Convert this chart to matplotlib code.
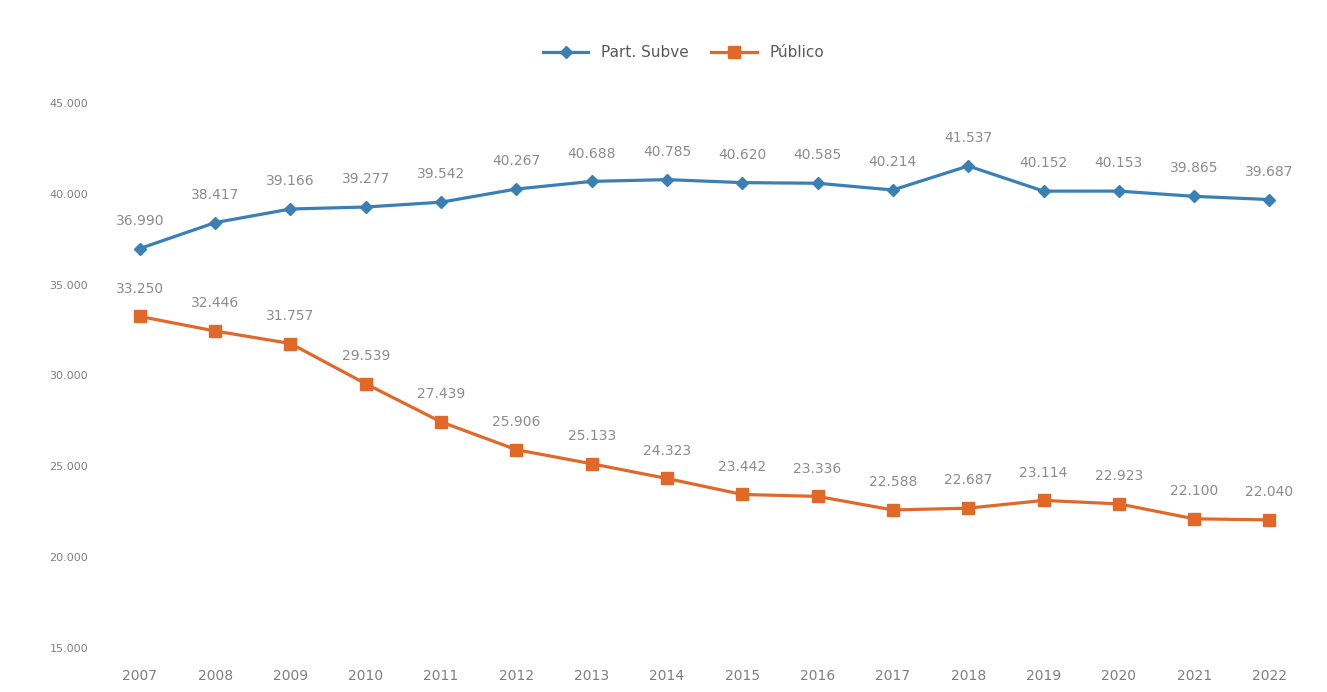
import matplotlib
matplotlib.use("Agg")
import matplotlib.pyplot as plt

years = ["2007", "2008", "2009", "2010", "2011", "2012", "2013", "2014",
         "2015", "2016", "2017", "2018", "2019", "2020", "2021", "2022"]
part_subve = [36990, 38417, 39166, 39277, 39542, 40267, 40688, 40785,
              40620, 40585, 40214, 41537, 40152, 40153, 39865, 39687]
publico = [33250, 32446, 31757, 29539, 27439, 25906, 25133, 24323,
           23442, 23336, 22588, 22687, 23114, 22923, 22100, 22040]
yticks = [15000, 20000, 25000, 30000, 35000, 40000, 45000]

def fmt(v):
    return f"{v:,}".replace(",", ".")

plt.rcParams['font.family'] = ['DejaVu Sans']
fig = plt.figure(figsize=(13.27, 6.92), dpi=100)
ax = fig.add_axes([0.077, 0.064, 0.908, 0.787])

x = list(range(len(years)))
blue = "#3a80b5"
orange = "#e0692a"
ax.plot(x, part_subve, color=blue, lw=2.3, marker="D", ms=6, label="Part. Subve")
ax.plot(x, publico, color=orange, lw=2.3, marker="s", ms=9, label="Público")

for xi, v in zip(x, part_subve):
    ax.annotate(fmt(v), (xi, v), textcoords="offset points", xytext=(0, 15),
                ha="center", va="bottom", fontsize=10, color="#8c8c8c")
for xi, v in zip(x, publico):
    ax.annotate(fmt(v), (xi, v), textcoords="offset points", xytext=(0, 15),
                ha="center", va="bottom", fontsize=10, color="#8c8c8c")

ax.set_xlim(-0.5, len(years) - 0.5)
ax.set_ylim(15000, 45000)
ax.set_xticks(x)
ax.set_xticklabels(years, fontsize=10, color="#7f7f7f")
ax.set_yticks(yticks)
ax.set_yticklabels([fmt(v) for v in yticks], fontsize=8, color="#7f7f7f")
ax.tick_params(axis="x", length=0, pad=15)
ax.tick_params(axis="y", length=0, pad=10)
for s in ax.spines.values():
    s.set_visible(False)

fig.legend(loc="upper center", bbox_to_anchor=(0.515, 0.955), ncol=2,
           frameon=False, fontsize=11, labelcolor="#595959",
           handlelength=3, columnspacing=1.5)

fig.savefig("out.png", dpi=100, facecolor="white")
